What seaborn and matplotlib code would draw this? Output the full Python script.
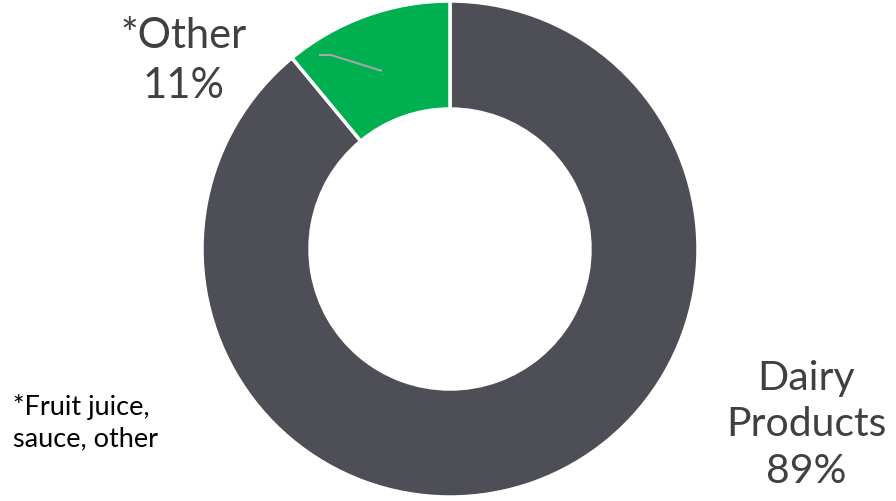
import matplotlib
matplotlib.use("Agg")
import matplotlib.pyplot as plt
import seaborn as sns

categories = ["Dairy\nProducts", "*Other"]
values = [89, 11]
pct_labels = ["89%", "11%"]
colors = ["#4D4E56", "#00B050"]
footnote = "*Fruit juice,\nsauce, other"

sns.set_theme(style="white")
plt.rcParams["font.family"] = ["Lato", "DejaVu Sans"]

fig = plt.figure(figsize=(8.96, 5.02), dpi=100)
ax = fig.add_axes([0, 0, 1, 1])

cx, cy, R = 450, 252, 248
wedges, _ = ax.pie(values, colors=colors, startangle=90, counterclock=False,
                   center=(cx, cy), radius=R, frame=True,
                   wedgeprops=dict(width=R - 140, edgecolor="white", linewidth=2.5))
ax.set_xlim(0, 896)
ax.set_ylim(0, 502)
ax.set_aspect("equal")
ax.axis("off")

txtc = "#404040"
ax.text(806, 77, f"{categories[0]}\n{pct_labels[0]}", ha="center", va="center",
        fontsize=29.5, color=txtc, linespacing=1.33)
ax.text(184, 441, f"{categories[1]}\n{pct_labels[1]}", ha="center", va="center",
        fontsize=30, color=txtc, linespacing=1.36)
ax.text(13, 79, footnote, ha="left", va="center", fontsize=19.5, color="black",
        linespacing=1.32)

# leader line
ax.plot([319, 331, 382], [502 - 56, 502 - 56, 502 - 72], color="#A6A6A6", lw=1.5,
        solid_capstyle="butt")

fig.savefig("out.png", dpi=100, facecolor="white")
